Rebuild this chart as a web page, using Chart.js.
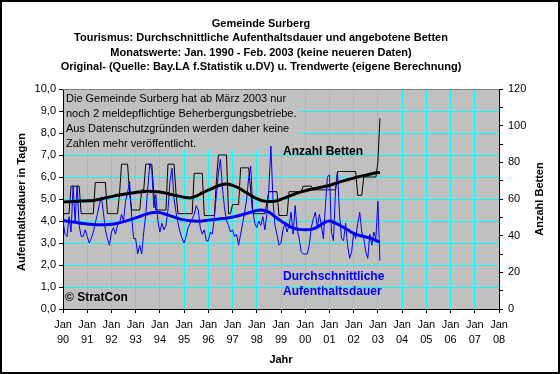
<!DOCTYPE html>
<html><head><meta charset="utf-8">
<script src="https://cdn.jsdelivr.net/npm/chart.js@4/dist/chart.umd.min.js"></script>
<style>html,body{margin:0;padding:0;background:#fff;}#wrap{width:560px;height:374px;position:relative;}</style>
</head><body><div id="wrap"><canvas id="c" width="560" height="374"></canvas></div>
<script>
// ---- Data (monthly, Jan 1990 = index 0 ... Feb 2003 = index 157) ----
const yearLabels = ['90','91','92','93','94','95','96','97','98','99','00','01','02','03','04','05','06','07','08'];
const titleLines = [
  'Gemeinde Surberg',
  'Tourismus: Durchschnittliche Aufenthaltsdauer und angebotene Betten',
  'Monatswerte: Jan. 1990 - Feb. 2003 (keine neueren Daten)',
  'Original- (Quelle: Bay.LA f.Statistik u.DV) u. Trendwerte (eigene Berechnung)'
];
const noteLines = [
  'Die Gemeinde Surberg hat ab März 2003 nur',
  'noch 2 meldepflichtige Beherbergungsbetriebe.',
  'Aus Datenschutzgründen werden daher keine',
  'Zahlen mehr veröffentlicht.'
];
// Aufenthaltsdauer (days), left axis
const dauer = [
  4.0,3.4,3.3,4.2,3.5,5.6,4.0,5.6,3.8,3.3,3.3,3.6,
  3.3,3.0,3.2,3.5,3.9,4.3,4.75,5.1,4.4,3.6,3.2,2.9,
  3.5,3.7,3.4,3.8,3.9,4.3,4.0,4.9,5.3,5.8,4.2,3.2,
  3.2,2.5,2.9,2.5,3.5,4.3,5.5,6.6,6.3,4.6,5.2,4.0,
  3.5,3.9,3.6,3.8,4.5,5.8,6.4,5.0,4.4,3.9,3.5,3.2,
  3.0,3.3,3.7,3.9,4.1,4.3,4.7,4.5,3.7,3.4,3.6,3.1,
  3.1,3.5,3.4,4.2,5.2,6.2,6.8,5.5,4.6,4.0,3.8,3.5,
  3.6,3.3,3.4,2.9,3.4,3.9,4.4,5.0,6.0,6.5,4.5,3.9,
  3.7,4.0,3.8,4.2,3.6,4.3,5.5,7.4,5.0,3.8,3.4,2.9,
  3.0,3.6,3.9,3.5,3.8,4.4,3.4,4.7,3.6,3.2,2.6,2.5,
  2.5,2.5,2.9,3.7,4.1,4.4,3.7,4.3,3.8,3.2,4.7,6.0,
  6.1,3.5,3.1,5.4,6.2,4.3,3.2,3.1,3.9,2.9,2.3,2.6,
  3.5,3.2,3.9,4.4,3.5,3.2,2.6,2.3,3.4,2.9,3.5,3.2,
  4.9,2.2
];
// Angebotene Betten, right axis
const betten = [
  52,52,52,52,67,67,67,67,67,52,52,52,
  52,52,52,52,69,69,69,69,69,69,52,52,
  52,52,52,52,63,79,79,79,79,63,54,54,
  54,54,54,65,65,79,79,79,79,63,54,54,
  54,54,54,54,79,79,79,79,63,52,52,52,
  52,52,52,52,52,74,74,74,74,74,51,51,
  51,51,51,51,70,84,84,84,84,84,52,52,
  57,57,57,57,77,77,77,77,77,64,52,52,
  52,52,52,52,52,58,64,64,64,64,64,51,
  51,51,51,51,64,64,64,64,64,64,64,67,
  67,67,67,67,65,65,65,65,65,65,65,65,
  65,65,65,65,75,75,75,75,75,75,75,75,
  75,75,62,62,62,72,72,72,72,72,72,72,
  80,104
];
// Trend values read at quarterly months
const trendMonths = [0,3,6,9,12,15,18,21,24,27,30,33,36,39,42,45,48,51,54,57,60,63,66,69,72,75,78,81,84,87,90,93,96,99,102,105,108,111,114,117,120,123,126,129,132,135,138,141,144,147,150,153,156,157];
const bettenTrend = [58.4,58.5,58.7,58.9,59.0,59.2,59.8,60.6,61.3,62.0,62.6,63.1,63.6,64.0,64.2,64.1,63.8,63.2,62.4,61.7,61.0,60.6,61.6,63.3,64.9,66.4,67.6,68.2,67.4,66.0,64.0,62.0,60.2,59.0,58.6,58.8,59.8,61.1,62.4,63.6,64.5,65.3,66.0,66.7,67.4,68.5,69.6,70.5,71.4,72.3,73.0,73.8,74.4,74.5];
const dauerTrend = [4.02,3.98,3.94,3.90,3.86,3.84,3.83,3.83,3.85,3.90,3.97,4.05,4.14,4.24,4.33,4.39,4.38,4.30,4.21,4.12,4.05,4.01,3.99,4.00,4.04,4.07,4.10,4.13,4.18,4.24,4.32,4.40,4.48,4.49,4.40,4.20,4.00,3.83,3.68,3.62,3.60,3.62,3.72,3.90,4.00,3.90,3.76,3.60,3.44,3.34,3.27,3.20,3.07,3.04];

const FONT = '"Liberation Sans", Arial, sans-serif';
const BLUE = '#0000FF';
const CYAN = '#00FFFF';

const pts = (arr) => arr.map((v,i)=>({x:i,y:v}));
const tpts = (arr) => arr.map((v,i)=>({x:trendMonths[i],y:v}));

const deco = {
  id:'deco',
  beforeDraw(c){
    const ctx=c.ctx, a=c.chartArea;
    ctx.save();
    ctx.fillStyle='#fff'; ctx.fillRect(0,0,c.width,c.height);
    ctx.fillStyle='#C0C0C0'; ctx.fillRect(a.left,a.top,a.right-a.left,a.bottom-a.top);
    ctx.restore();
  },
  beforeDatasetsDraw(c){
    const ctx=c.ctx, a=c.chartArea;
    ctx.save();
    ctx.font='11px '+FONT;
    let w=0; noteLines.forEach(s=>{w=Math.max(w,ctx.measureText(s).width);});
    ctx.fillStyle='#C0C0C0';
    ctx.fillRect(a.left+1,a.top+1,w+5,60);
    ctx.fillStyle='#000'; ctx.textBaseline='alphabetic'; ctx.textAlign='left';
    noteLines.forEach((s,i)=>ctx.fillText(s,a.left+3,102+15*i));
    ctx.restore();
  },
  afterDraw(c){
    const ctx=c.ctx, a=c.chartArea;
    ctx.save();
    // plot top border
    ctx.strokeStyle='#808080'; ctx.lineWidth=1;
    ctx.beginPath(); ctx.moveTo(a.left,a.top+0.5); ctx.lineTo(a.right,a.top+0.5); ctx.stroke();
    ctx.fillStyle='#000'; ctx.textAlign='center'; ctx.textBaseline='alphabetic';
    ctx.font='bold 11px '+FONT;
    titleLines.forEach((s,i)=>ctx.fillText(s,261,[27,41,56,70][i]));
    ctx.fillText('Jahr',281,363);
    // axis titles
    ctx.textBaseline='middle';
    ctx.save(); ctx.translate(22,202); ctx.rotate(-Math.PI/2); ctx.fillText('Aufenthaltsdauer in Tagen',0,0); ctx.restore();
    ctx.save(); ctx.translate(540,199); ctx.rotate(-Math.PI/2); ctx.fillText('Anzahl Betten',0,0); ctx.restore();
    // in-plot labels
    ctx.textAlign='left'; ctx.textBaseline='alphabetic';
    ctx.font='bold 12px '+FONT;
    ctx.fillText('Anzahl Betten',283,155);
    ctx.fillText('© StratCon',65,301);
    ctx.fillStyle=BLUE;
    ctx.fillText('Durchschnittliche',283,280);
    ctx.fillText('Aufenthaltsdauer',283,295);
    // outer frame
    ctx.strokeStyle='#000'; ctx.lineWidth=2;
    ctx.strokeRect(1,1,558,372);
    ctx.restore();
  }
};

new Chart(document.getElementById('c'),{
  type:'line',
  data:{datasets:[
    {label:'Betten',data:pts(betten),yAxisID:'yR',borderColor:'#000',borderWidth:1,pointRadius:0,tension:0,order:4},
    {label:'Dauer',data:pts(dauer),yAxisID:'yL',borderColor:BLUE,borderWidth:1,pointRadius:0,tension:0,order:3},
    {label:'Betten Trend',data:tpts(bettenTrend),yAxisID:'yR',borderColor:'#000',borderWidth:3,pointRadius:0,tension:0.4,order:2},
    {label:'Dauer Trend',data:tpts(dauerTrend),yAxisID:'yL',borderColor:BLUE,borderWidth:3,pointRadius:0,tension:0.4,order:1}
  ]},
  options:{
    responsive:false, animation:false, devicePixelRatio:1,
    layout:{padding:{top:89,left:0,right:0,bottom:0}},
    plugins:{legend:{display:false},tooltip:{enabled:false},title:{display:false}},
    scales:{
      x:{type:'linear',min:0,max:216,
        afterFit(s){s.height=65;},
        ticks:{stepSize:12,autoSkip:false,maxRotation:0,color:'#000',font:{family:FONT,size:11,lineHeight:1.4},padding:4,
          callback:(v)=> (v%12===0 ? ['Jan',yearLabels[v/12]] : '')},
        grid:{color:CYAN,tickColor:'#000',tickLength:4,drawTicks:true},
        border:{color:'#000',width:1}},
      yL:{position:'left',min:0,max:10,
        afterFit(s){s.width=63;},
        ticks:{stepSize:1,color:'#000',font:{family:FONT,size:11},padding:3,
          callback:(v)=>v.toFixed(1).replace('.',',')},
        grid:{color:CYAN,tickColor:'#000',tickLength:4},
        border:{color:'#000',width:1}},
      yR:{position:'right',min:0,max:120,
        afterFit(s){s.width=61;},
        ticks:{stepSize:10,color:'#000',font:{family:FONT,size:11},padding:5,
          callback:(v)=> (v%20===0 ? String(v) : '')},
        grid:{drawOnChartArea:false,tickColor:'#000',tickLength:4},
        border:{color:'#000',width:1}}
    }
  },
  plugins:[deco]
});
</script></body></html>
